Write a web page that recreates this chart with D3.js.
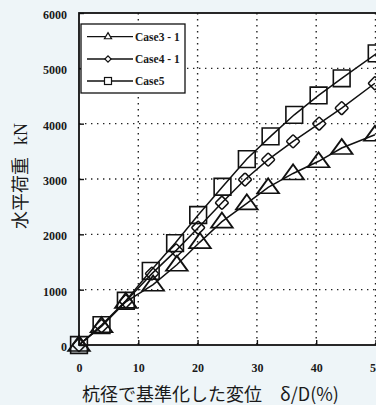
<!DOCTYPE html>
<html>
<head>
<meta charset="utf-8">
<script src="https://cdn.jsdelivr.net/npm/d3@7"></script>
<style>
  html, body { margin: 0; padding: 0; background: #eef5f8; }
  svg { display: block; }
</style>
</head>
<body>
<svg id="chart" width="376" height="405"></svg>
<script>
// Horizontal load vs. normalised displacement for three test cases
const seriesNames = ["Case3 - 1", "Case4 - 1", "Case5"];
const case31X = [0, 3.8, 7.9, 12.5, 16.5, 20.4, 24.1, 28.3, 31.9, 36.1, 40.4, 44.3, 49.9];
const case31Y = [0, 340, 780, 1090, 1450, 1860, 2230, 2560, 2850, 3100, 3320, 3560, 3800];
const case41X = [0, 3.8, 7.9, 12.3, 16.4, 20.1, 24.1, 28.0, 31.9, 36.1, 40.5, 44.3, 49.9];
const case41Y = [0, 340, 790, 1290, 1710, 2120, 2570, 2990, 3350, 3680, 4000, 4280, 4730];
const case5X = [0, 3.8, 7.9, 12.1, 16.2, 20.1, 24.2, 28.3, 32.3, 36.3, 40.4, 44.3, 50.2];
const case5Y = [0, 360, 800, 1340, 1840, 2350, 2860, 3360, 3770, 4160, 4510, 4820, 5270];
const xTicks = [0, 10, 20, 30, 40, 50, 60];
const yTicks = [0, 1000, 2000, 3000, 4000, 5000, 6000];
const xTitle = "杭径で基準化した変位　δ/D(%)";
const yTitleMain = "水平荷重";
const yTitleUnit = "kN";

const svg = d3.select("#chart");
const plotL = 79, plotT = 13, plotB = 345;
const x = d3.scaleLinear().domain([0, 60]).range([plotL, plotL + 6 * 59.3]);
const y = d3.scaleLinear().domain([0, 6000]).range([plotB, plotT]);
const plotR = x(60);

// plot area
svg.append("rect").attr("x", plotL).attr("y", plotT)
  .attr("width", plotR - plotL).attr("height", plotB - plotT).attr("fill", "#fff");

// dotted grid
const grid = svg.append("g").attr("stroke", "#222").attr("stroke-width", 1.4)
  .attr("stroke-dasharray", "1.4,4.6");
grid.selectAll(".gx").data(xTicks.filter(d => d > 0 && d < 60)).join("line")
  .attr("x1", d => x(d)).attr("x2", d => x(d)).attr("y1", plotT).attr("y2", plotB);
grid.selectAll(".gy").data(yTicks.filter(d => d > 0 && d < 6000)).join("line")
  .attr("x1", plotL).attr("x2", plotR).attr("y1", d => y(d)).attr("y2", d => y(d));

// axes
const xAxis = d3.axisBottom(x).tickValues(xTicks).tickSize(-5).tickPadding(18).tickFormat(d3.format("d"));
const yAxis = d3.axisLeft(y).tickValues(yTicks).tickSize(-5).tickPadding(12).tickFormat(d3.format("d"));
const gx = svg.append("g").attr("transform", `translate(0,${plotB})`).call(xAxis);
const gy = svg.append("g").attr("transform", `translate(${plotL},0)`).call(yAxis);
[gx, gy].forEach(g => {
  g.select(".domain").remove();
  g.selectAll(".tick line").attr("stroke", "#111").attr("stroke-width", 1.4);
  g.selectAll(".tick text").attr("fill", "#1a1a1a")
    .style("font-family", "'Liberation Serif', 'Times New Roman', serif")
    .style("font-size", "12px").style("font-weight", "bold");
});
gy.selectAll(".tick text").attr("dy", "0.45em");

// frame
svg.append("rect").attr("x", plotL).attr("y", plotT)
  .attr("width", plotR - plotL).attr("height", plotB - plotT)
  .attr("fill", "none").attr("stroke", "#111").attr("stroke-width", 1.8);

// series
const symbols = [
  d3.symbol().type(d3.symbolTriangle).size(130),
  null,
  d3.symbol().type(d3.symbolSquare).size(280)
];
const seriesData = [
  d3.zip(case31X, case31Y),
  d3.zip(case41X, case41Y),
  d3.zip(case5X, case5Y)
];
const line = d3.line().x(d => x(d[0])).y(d => y(d[1]));

seriesData.forEach((data, i) => {
  const g = svg.append("g");
  g.append("path").datum(data).attr("d", line)
    .attr("fill", "none").attr("stroke", "#111").attr("stroke-width", 1.5);
  const pts = g.selectAll("g.pt").data(data).join("g")
    .attr("transform", d => `translate(${x(d[0])},${y(d[1])})`);
  if (i === 1) {
    pts.append("rect").attr("x", -4.8).attr("y", -4.8).attr("width", 9.6).attr("height", 9.6)
      .attr("rx", 1.2).attr("transform", "rotate(45)")
      .attr("fill", "none").attr("stroke", "#111").attr("stroke-width", 1.5);
  } else {
    pts.append("path").attr("d", symbols[i]())
      .attr("transform", i === 0 ? "scale(1.25,1) translate(0,1)" : null)
      .attr("fill", "none").attr("stroke", "#111").attr("stroke-width", 1.6);
  }
});

// legend
const lg = svg.append("g");
lg.append("rect").attr("x", 81).attr("y", 24).attr("width", 104).attr("height", 69)
  .attr("fill", "#fff").attr("stroke", "#111").attr("stroke-width", 1.3);
const rowY = [36.7, 59, 81];
seriesNames.forEach((name, i) => {
  const r = lg.append("g").attr("transform", `translate(0,${rowY[i]})`);
  r.append("line").attr("x1", 87).attr("x2", 133).attr("y1", 0).attr("y2", 0)
    .attr("stroke", "#111").attr("stroke-width", 1.3);
  const m = r.append("g").attr("transform", "translate(108,0)");
  if (i === 0) {
    m.append("path").attr("d", d3.symbol().type(d3.symbolTriangle).size(22)())
      .attr("fill", "#fff").attr("stroke", "#111").attr("stroke-width", 1.2);
  } else if (i === 1) {
    m.append("rect").attr("x", -2.2).attr("y", -2.2).attr("width", 4.4).attr("height", 4.4)
      .attr("transform", "rotate(45)")
      .attr("fill", "#fff").attr("stroke", "#111").attr("stroke-width", 1.2);
  } else {
    m.append("rect").attr("x", -3.5).attr("y", -3.5).attr("width", 7).attr("height", 7)
      .attr("fill", "#fff").attr("stroke", "#111").attr("stroke-width", 1.2);
  }
  r.append("text").attr("x", 135).attr("y", 0).attr("dy", "0.35em")
    .attr("fill", "#1a1a1a")
    .style("font-family", "'Liberation Serif', 'Times New Roman', serif")
    .style("font-size", "11.5px").style("font-weight", "bold")
    .text(name);
});

// axis titles
svg.append("text").attr("x", 82).attr("y", 401)
  .attr("fill", "#1a1a1a")
  .style("font-family", "'Noto Sans CJK JP', sans-serif")
  .style("font-size", "18px")
  .text(xTitle);
const yt = svg.append("text").attr("transform", "translate(27,176) rotate(-90)")
  .attr("text-anchor", "middle")
  .attr("fill", "#1a1a1a")
  .style("font-size", "18px");
yt.append("tspan").style("font-family", "'Noto Sans CJK JP', sans-serif").text(yTitleMain);
yt.append("tspan").attr("dx", 12)
  .style("font-family", "'Liberation Serif', 'Times New Roman', serif").text(yTitleUnit);
</script>
</body>
</html>
